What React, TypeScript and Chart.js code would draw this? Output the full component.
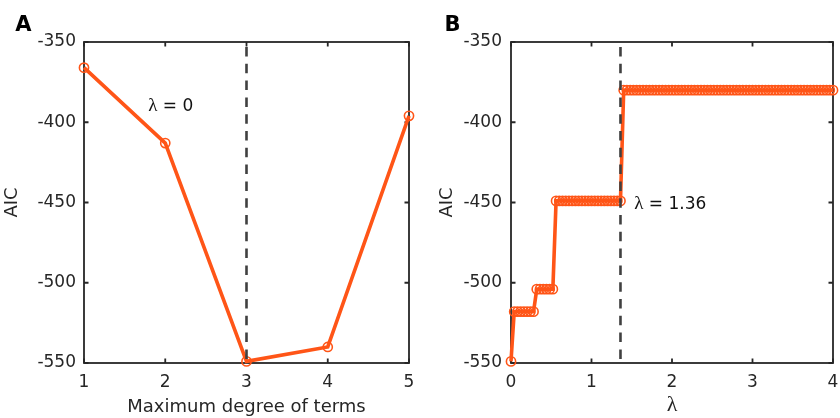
import React, { useEffect, useRef } from 'react';
import { Chart, registerables } from 'chart.js';

Chart.register(...registerables);

// ---------- data ----------
const degrees = [1, 2, 3, 4, 5];
const aicByDegree = [-366, -413, -549, -540, -396];

const lambdas = [
  0, 0.04, 0.08, 0.12, 0.16, 0.2, 0.24, 0.28, 0.32, 0.36,
  0.4, 0.44, 0.48, 0.52, 0.56, 0.6, 0.64, 0.68, 0.72, 0.76,
  0.8, 0.84, 0.88, 0.92, 0.96, 1.0, 1.04, 1.08, 1.12, 1.16,
  1.2, 1.24, 1.28, 1.32, 1.36, 1.4, 1.44, 1.48, 1.52, 1.56,
  1.6, 1.64, 1.68, 1.72, 1.76, 1.8, 1.84, 1.88, 1.92, 1.96,
  2.0, 2.04, 2.08, 2.12, 2.16, 2.2, 2.24, 2.28, 2.32, 2.36,
  2.4, 2.44, 2.48, 2.52, 2.56, 2.6, 2.64, 2.68, 2.72, 2.76,
  2.8, 2.84, 2.88, 2.92, 2.96, 3.0, 3.04, 3.08, 3.12, 3.16,
  3.2, 3.24, 3.28, 3.32, 3.36, 3.4, 3.44, 3.48, 3.52, 3.56,
  3.6, 3.64, 3.68, 3.72, 3.76, 3.8, 3.84, 3.88, 3.92, 3.96,
  4.0,
];
const aicByLambda = [
  -549, -518, -518, -518, -518, -518, -518, -518, -504, -504,
  -504, -504, -504, -504, -449, -449, -449, -449, -449, -449,
  -449, -449, -449, -449, -449, -449, -449, -449, -449, -449,
  -449, -449, -449, -449, -449, -380, -380, -380, -380, -380,
  -380, -380, -380, -380, -380, -380, -380, -380, -380, -380,
  -380, -380, -380, -380, -380, -380, -380, -380, -380, -380,
  -380, -380, -380, -380, -380, -380, -380, -380, -380, -380,
  -380, -380, -380, -380, -380, -380, -380, -380, -380, -380,
  -380, -380, -380, -380, -380, -380, -380, -380, -380, -380,
  -380, -380, -380, -380, -380, -380, -380, -380, -380, -380,
  -380,
];

const yTicks = [-550, -500, -450, -400, -350];
const xTicksA = [1, 2, 3, 4, 5];
const xTicksB = [0, 1, 2, 3, 4];
const bestDegree = 3;
const bestLambda = 1.36;
const noteA = { x: 1.79, y: -390, symbol: 'λ', rest: ' = 0' };
const noteB = { x: 1.53, y: -451, symbol: 'λ', rest: ' = 1.36' };
const xTitleA = 'Maximum degree of terms';
const xTitleB = 'λ';
const yTitle = 'AIC';

// ---------- styles ----------
const ORANGE = '#FF5517';
const AXIS = '#262626';
const DASH = '#404040';
const SANS = '"DejaVu Sans", "Liberation Sans", sans-serif';
const SERIF = '"Liberation Serif", "DejaVu Serif", serif';
const TICK = 4.5;

type PanelCfg = {
  xTicks: number[];
  refX: number;
  note: { x: number; y: number; symbol: string; rest: string };
  letter: string;
  letterX: number;
  letterY: number;
};

function panelPlugin(p: PanelCfg) {
  return {
    id: 'panelDecor',
    beforeDatasetsDraw(chart: any) {
      const { ctx, chartArea: a, scales } = chart;
      const xs = scales.x;
      const ys = scales.y;
      ctx.save();
      ctx.strokeStyle = AXIS;
      ctx.lineWidth = 1.8;
      ctx.strokeRect(a.left, a.top, a.right - a.left, a.bottom - a.top);
      ctx.beginPath();
      p.xTicks.forEach((v) => {
        const px = xs.getPixelForValue(v);
        ctx.moveTo(px, a.bottom);
        ctx.lineTo(px, a.bottom - TICK);
        ctx.moveTo(px, a.top);
        ctx.lineTo(px, a.top + TICK);
      });
      yTicks.forEach((v) => {
        const py = ys.getPixelForValue(v);
        ctx.moveTo(a.left, py);
        ctx.lineTo(a.left + TICK, py);
        ctx.moveTo(a.right, py);
        ctx.lineTo(a.right - TICK, py);
      });
      ctx.stroke();
      ctx.restore();
    },
    afterDatasetsDraw(chart: any) {
      const { ctx, chartArea: a, scales } = chart;
      const xs = scales.x;
      const ys = scales.y;
      ctx.save();
      // dashed reference line
      const rx = xs.getPixelForValue(p.refX);
      ctx.strokeStyle = DASH;
      ctx.lineWidth = 2.6;
      ctx.setLineDash([9.5, 7.3]);
      ctx.lineDashOffset = -5;
      ctx.beginPath();
      ctx.moveTo(rx, a.top);
      ctx.lineTo(rx, a.bottom);
      ctx.stroke();
      ctx.setLineDash([]);
      // annotation
      const nx = xs.getPixelForValue(p.note.x);
      const ny = ys.getPixelForValue(p.note.y);
      ctx.fillStyle = '#111';
      ctx.textBaseline = 'middle';
      ctx.textAlign = 'left';
      ctx.font = `19px ${SERIF}`;
      ctx.fillText(p.note.symbol, nx, ny);
      const w = ctx.measureText(p.note.symbol).width;
      ctx.font = `17px ${SANS}`;
      ctx.fillText(p.note.rest, nx + w, ny);
      // panel letter
      ctx.font = `bold 21px ${SANS}`;
      ctx.textAlign = 'center';
      ctx.fillStyle = '#000';
      ctx.fillText(p.letter, p.letterX, p.letterY);
      ctx.restore();
    },
  };
}

function buildConfig(opts: {
  points: { x: number; y: number }[];
  xMin: number;
  xMax: number;
  xTicks: number[];
  xTitle: string;
  xTitleFont: any;
  yWidth: number;
  yTitlePad: number;
  yTickPad: number;
  padRight: number;
  plugin: any;
}): any {
  return {
    type: 'line',
    data: {
      datasets: [
        {
          data: opts.points,
          borderColor: ORANGE,
          borderWidth: 3.6,
          pointRadius: 4.6,
          pointBorderWidth: 1.6,
          pointBackgroundColor: 'rgba(0,0,0,0)',
          pointBorderColor: ORANGE,
          pointHoverRadius: 4.6,
          tension: 0,
          clip: false,
        },
      ],
    },
    options: {
      responsive: false,
      animation: false,
      events: [],
      layout: { autoPadding: false, padding: { left: 0, top: 42, right: opts.padRight, bottom: 0 } },
      plugins: { legend: { display: false }, tooltip: { enabled: false } },
      scales: {
        x: {
          type: 'linear',
          min: opts.xMin,
          max: opts.xMax,
          afterBuildTicks: (s: any) => {
            s.ticks = opts.xTicks.map((v) => ({ value: v }));
          },
          afterFit: (s: any) => {
            s.height = 55;
            s.paddingLeft = 0;
            s.paddingRight = 0;
          },
          grid: { display: true, drawOnChartArea: false, drawTicks: false },
          border: { display: false },
          ticks: {
            padding: 9,
            color: AXIS,
            font: { family: SANS, size: 17 },
            maxRotation: 0,
            autoSkip: false,
            callback: (v: any) => String(v),
          },
          title: {
            display: true,
            text: opts.xTitle,
            color: AXIS,
            font: opts.xTitleFont,
            padding: { top: 0, bottom: 0 },
          },
        },
        y: {
          type: 'linear',
          min: -550,
          max: -350,
          afterBuildTicks: (s: any) => {
            s.ticks = yTicks.map((v) => ({ value: v }));
          },
          afterFit: (s: any) => {
            s.width = opts.yWidth;
            s.paddingTop = 0;
            s.paddingBottom = 0;
          },
          grid: { display: true, drawOnChartArea: false, drawTicks: false },
          border: { display: false },
          ticks: {
            padding: opts.yTickPad,
            color: AXIS,
            font: { family: SANS, size: 17 },
            autoSkip: false,
            callback: (v: any) => String(v),
          },
          title: {
            display: true,
            text: yTitle,
            color: AXIS,
            font: { family: SANS, size: 18 },
            padding: { top: opts.yTitlePad, bottom: 0 },
          },
        },
      },
    },
    plugins: [opts.plugin],
  };
}

function Panel(props: { config: any; left: number }) {
  const ref = useRef<HTMLCanvasElement | null>(null);
  useEffect(() => {
    if (!ref.current) return;
    const chart = new Chart(ref.current, props.config);
    return () => chart.destroy();
  }, [props.config]);
  return (
    <div style={{ position: 'absolute', left: props.left, top: 0, width: 420, height: 418 }}>
      <canvas ref={ref} width={420} height={418} style={{ display: 'block', width: 420, height: 418 }} />
    </div>
  );
}

const configA = buildConfig({
  points: degrees.map((d, i) => ({ x: d, y: aicByDegree[i] })),
  xMin: 1,
  xMax: 5,
  xTicks: xTicksA,
  xTitle: xTitleA,
  xTitleFont: { family: SANS, size: 18 },
  yWidth: 84,
  yTitlePad: 2,
  yTickPad: 8,
  padRight: 11,
  plugin: panelPlugin({ xTicks: xTicksA, refX: bestDegree, note: noteA, letter: 'A', letterX: 23.5, letterY: 26 }),
});

const configB = buildConfig({
  points: lambdas.map((l, i) => ({ x: l, y: aicByLambda[i] })),
  xMin: 0,
  xMax: 4,
  xTicks: xTicksB,
  xTitle: xTitleB,
  xTitleFont: { family: SERIF, size: 22 },
  yWidth: 91,
  yTitlePad: 17,
  yTickPad: 9,
  padRight: 7,
  plugin: panelPlugin({ xTicks: xTicksB, refX: bestLambda, note: noteB, letter: 'B', letterX: 32.5, letterY: 26 }),
});

export default function App() {
  return (
    <div style={{ position: 'fixed', left: 0, top: 0, width: 840, height: 418, background: '#fff', overflow: 'hidden' }}>
      <Panel config={configA} left={0} />
      <Panel config={configB} left={420} />
    </div>
  );
}
